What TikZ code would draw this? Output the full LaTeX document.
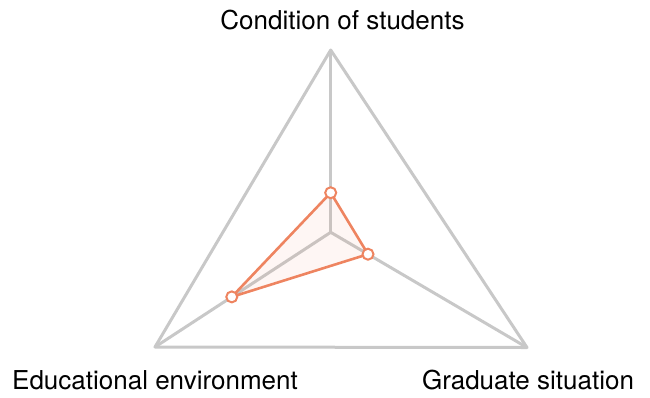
\documentclass[tikz,border=0pt]{standalone}
\usepackage{fontspec}
\setmainfont{TeX Gyre Heros}
\usepackage{tikz}
\usetikzlibrary{calc}
\usetikzlibrary{positioning}
\definecolor{clrAxis}{RGB}{200,200,200}
\definecolor{clrData}{RGB}{238,132,96}
\tikzstyle{axis_line}=[draw=clrAxis, line width=3pt, line join=round]
\tikzstyle{data_line}=[draw=clrData, line width=2.6pt, line join=round, fill=clrData, fill opacity=0.07]
\tikzstyle{data_point}=[circle, draw=clrData, line width=2pt, fill=white, inner sep=0pt, minimum size=11pt]
\tikzstyle{label_style}=[anchor=base, inner sep=0pt, font=\fontsize{26}{30}\selectfont]

\begin{document}
\begin{tikzpicture}[x=1pt, y=-1pt]
		\useasboundingbox (0,0) rectangle (650,397) ;

		\coordinate (O) at (330.7,232.3) ;
		\coordinate (T) at (330.7,50) ;
		\coordinate (L) at (155,347) ;
		\coordinate (R) at (527,347.5) ;

		% axes + outer triangle
		\draw[axis_line] (T) -- (L) -- (R) -- cycle ;
		\draw[axis_line] (O) -- (T) ;
		\draw[axis_line] (O) -- (L) ;
		\draw[axis_line] (O) -- (R) ;

		% values
		\coordinate (vT) at ($(O)!0.217!(T)$) ;
		\coordinate (vR) at ($(O)!0.19!(R)$) ;
		\coordinate (vL) at ($(O)!0.563!(L)$) ;
		\draw[data_line] (vT) -- (vR) -- (vL) -- cycle ;

		\node[data_point] (pT) at (vT) {} ;
		\node[data_point] (pR) at (vR) {} ;
		\node[data_point] (pL) at (vL) {} ;

		% labels
		\node[label_style] (lT) at (342.5,29) {Condition of students} ;
		\node[label_style] (lL) at (155,389) {Educational environment} ;
		\node[label_style] (lR) at (528,389) {Graduate situation} ;

	\end{tikzpicture}
\end{document}
